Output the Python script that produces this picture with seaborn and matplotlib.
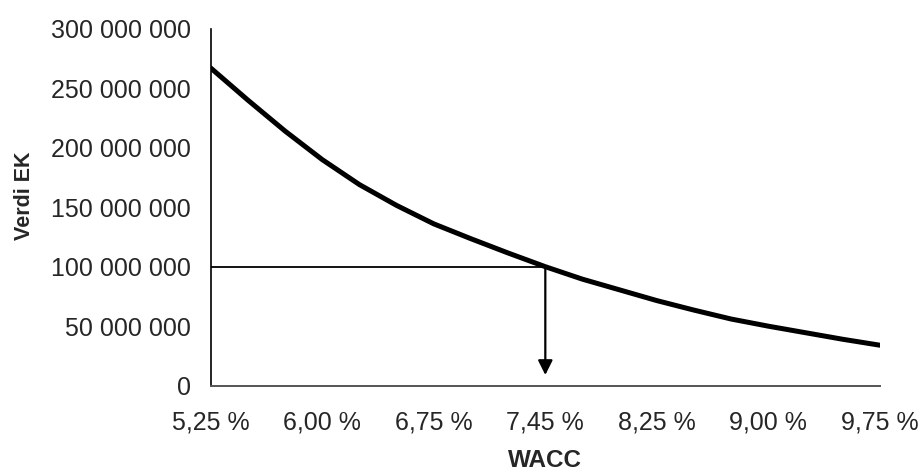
import numpy as np
import pandas as pd
import matplotlib
matplotlib.use("Agg")
import matplotlib.pyplot as plt
from matplotlib.ticker import FuncFormatter
import seaborn as sns

# WACC categories (every third one is labelled on the axis)
wacc = [5.25, 5.50, 5.75, 6.00, 6.25, 6.50, 6.75, 7.00, 7.25, 7.45,
        7.75, 8.00, 8.25, 8.50, 8.75, 9.00, 9.25, 9.50, 9.75]
# equity value
verdi_ek = [267e6, 240e6, 214e6, 190e6, 169e6, 151.5e6, 136e6, 123.5e6, 111.5e6, 100e6,
            89.5e6, 80.5e6, 71.5e6, 63.5e6, 56e6, 50e6, 44.5e6, 39e6, 34e6]
# the WACC that gives the target equity value
target_wacc = 7.45

df = pd.DataFrame({"pos": np.arange(len(wacc)), "wacc": wacc, "verdi": verdi_ek})

sns.set_style("white")
plt.rcParams["font.family"] = ["Liberation Sans", "DejaVu Sans"]

fig = plt.figure(figsize=(9.22, 4.73), dpi=100)
ax = fig.add_axes([0.2285, 0.1846, 0.7259, 0.7547])

sns.lineplot(data=df, x="pos", y="verdi", color="black", linewidth=3.6, ax=ax)

# horizontal line to the curve and arrow down to the x axis
ti = wacc.index(target_wacc)
tv = verdi_ek[ti]
ax.plot([0, ti], [tv, tv], color="black", linewidth=1.3, solid_capstyle="butt")
ax.annotate("", xy=(ti, 9e6), xytext=(ti, tv),
            arrowprops=dict(arrowstyle="-|>", color="black", lw=1.6,
                            mutation_scale=22, shrinkA=0, shrinkB=0))

ax.set_xlim(0, len(wacc) - 1)
ax.set_ylim(0, 300e6)
tick_pos = list(range(0, len(wacc), 3))
ax.set_xticks(tick_pos)
ax.set_xticklabels([f"{wacc[i]:.2f} %".replace(".", ",") for i in tick_pos])
ax.set_yticks(np.arange(0, 300e6 + 1, 50e6))
ax.yaxis.set_major_formatter(FuncFormatter(lambda v, p: f"{v:,.0f}".replace(",", " ")))

ax.tick_params(axis="both", which="major", direction="out", length=7, width=1.2,
               color="#808080", labelsize=18, pad=7)
ax.tick_params(axis="x", pad=11)

sns.despine(ax=ax)
ax.spines["left"].set_color("black")
ax.spines["left"].set_linewidth(1.2)
ax.spines["bottom"].set_color("#555555")
ax.spines["bottom"].set_linewidth(1.4)

ax.set_xlabel("WACC", fontsize=17.5, fontweight="bold")
ax.set_ylabel("Verdi EK", fontsize=15.5, fontweight="bold")
ax.xaxis.set_label_coords(0.5, -0.178)
ax.yaxis.set_label_coords(-0.262, 0.532)

fig.savefig("out.png", dpi=100)
